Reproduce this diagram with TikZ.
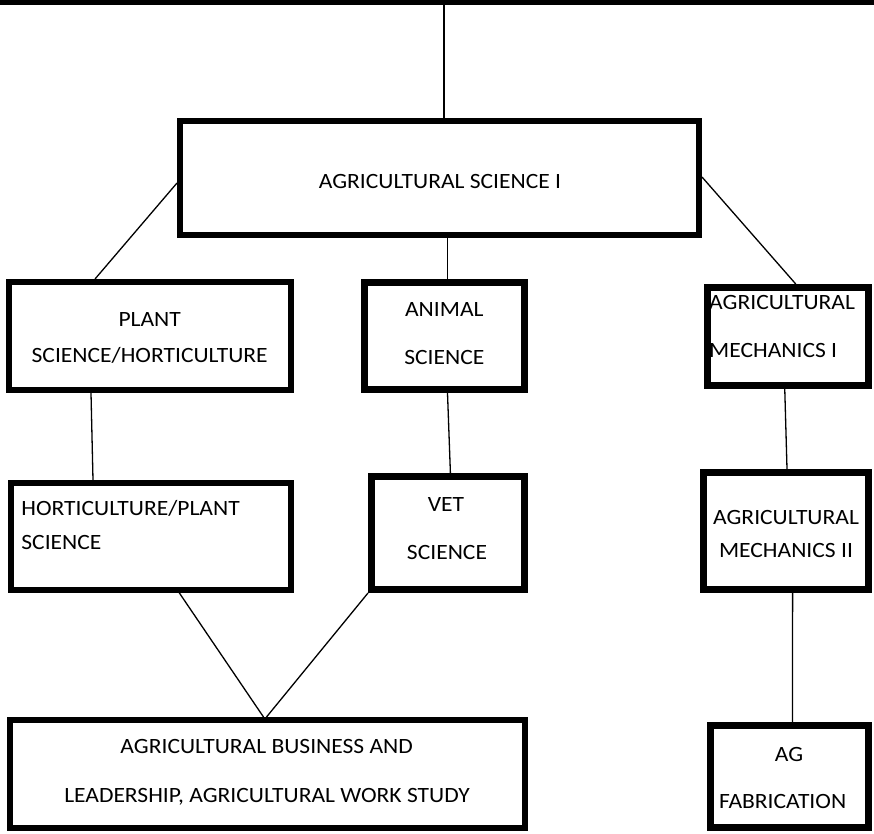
\documentclass[tikz,border=0pt]{standalone}
\usepackage{fontspec}
\setmainfont{Carlito}[FakeStretch=1.08]
\begin{document}
\begin{tikzpicture}[x=1pt,y=-1pt,
  box/.style={draw=black,fill=white,rectangle,inner sep=0pt},
  thinb/.style={box,line width=6pt},
  thickb/.style={box,line width=7pt},
  conn/.style={draw=black,line width=1.3pt},
  txt/.style={inner sep=0pt,text height=13.6pt,text depth=0pt,font=\fontsize{21.8}{24}\selectfont}]
\useasboundingbox (0,0) rectangle (874,833);
\fill[white] (0,0) rectangle (874,833);
\fill[black] (0,0) rectangle (874,5);
\coordinate (topc) at (444,4);
% boxes
\node[thinb,minimum width=519pt,minimum height=114pt] (main) at (439.5,178) {};
\node[thinb,minimum width=282pt,minimum height=108pt] (plant) at (150,336) {};
\node[thickb,minimum width=160pt,minimum height=107pt] (animal) at (444.5,336) {};
\node[thickb,minimum width=161.5pt,minimum height=98pt] (mechA) at (787.75,336.5) {};
\node[thinb,minimum width=280pt,minimum height=107pt] (hort) at (151,536.5) {};
\node[thickb,minimum width=153pt,minimum height=113pt] (vet) at (448,533) {};
\node[thickb,minimum width=165pt,minimum height=117pt] (mechB) at (786,531) {};
\node[thinb,minimum width=515pt,minimum height=108pt] (bus) at (267.5,774) {};
\node[thickb,minimum width=158pt,minimum height=102pt] (fab) at (789.5,776.5) {};
% connectors
\draw[conn] (topc) -- (main.north -| topc);
\draw[conn] ([yshift=-5pt]main.west) -- ([xshift=-55pt]plant.north);
\draw[conn] ([xshift=8pt]main.south) -- ([xshift=3pt]animal.north);
\draw[conn] ([yshift=1pt]main.east) -- ([xshift=8pt]mechA.north);
\draw[conn] ([xshift=-59pt]plant.south) -- ([xshift=-58pt]hort.north);
\draw[conn] ([xshift=3pt]animal.south) -- ([xshift=2.4pt]vet.north);
\draw[conn] ([xshift=-3pt]mechA.south) -- ([xshift=1pt]mechB.north);
\draw[conn] ([xshift=25pt,yshift=5pt]hort.south) -- ([xshift=-4pt]bus.north);
\draw[conn] (vet.south west) -- ([xshift=-1pt]bus.north);
\draw[conn] ([xshift=6.6pt]mechB.south) -- ([xshift=3pt]fab.north);
% texts
\node[txt] (main-t) at (440,181.7) {AGRICULTURAL SCIENCE I};
\node[txt] (plant-t1) at (149.7,320) {PLANT};
\node[txt] (plant-t2) at (149.7,355.7) {SCIENCE/HORTICULTURE};
\node[txt] (animal-t1) at (444.3,309.3) {ANIMAL};
\node[txt] (animal-t2) at (444.3,357.7) {SCIENCE};
\node[txt,anchor=west] (mechA-t1) at (709,302.7) {AGRICULTURAL};
\node[txt,anchor=west] (mechA-t2) at (709,351) {MECHANICS I};
\node[txt,anchor=west] (hort-t1) at (21.2,508.3) {HORTICULTURE/PLANT};
\node[txt,anchor=west] (hort-t2) at (21.2,542.7) {SCIENCE};
\node[txt] (vet-t1) at (446,505) {VET};
\node[txt] (vet-t2) at (447,552.7) {SCIENCE};
\node[txt] (mechB-t1) at (786,517.3) {AGRICULTURAL};
\node[txt] (mechB-t2) at (786,551) {MECHANICS II};
\node[txt] (bus-t1) at (266.7,746.7) {AGRICULTURAL BUSINESS AND};
\node[txt] (bus-t2) at (267,796) {LEADERSHIP, AGRICULTURAL WORK STUDY};
\node[txt] (fab-t1) at (789,755) {AG};
\node[txt] (fab-t2) at (782.6,801.7) {FABRICATION};
\end{tikzpicture}
\end{document}
